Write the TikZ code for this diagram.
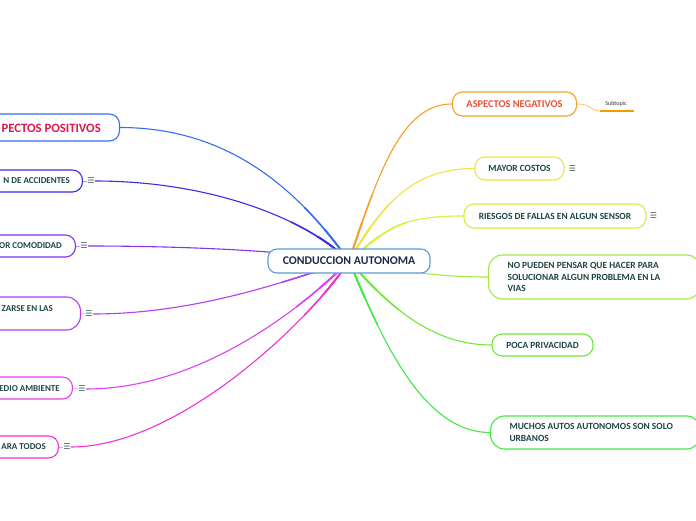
\documentclass[tikz,border=0pt]{standalone}
\usepackage{fontspec}
\setmainfont{Carlito}
\newfontfamily\symfont{DejaVu Sans}
\usetikzlibrary{backgrounds}
\pgfdeclarelayer{bottom}
\pgfsetlayers{bottom,background,main}
\definecolor{txt}{HTML}{1E4545}
\definecolor{navy}{HTML}{1B2A4E}
\definecolor{cenb}{HTML}{5B9BD5}
\definecolor{cL1}{HTML}{3A6CF2}
\definecolor{cL2}{HTML}{3A2EE6}
\definecolor{cL3}{HTML}{8232F0}
\definecolor{cL4}{HTML}{B040F2}
\definecolor{cL5}{HTML}{E040F0}
\definecolor{cL6}{HTML}{F232D2}
\definecolor{cR1}{HTML}{F5A02A}
\definecolor{cR2}{HTML}{F0E440}
\definecolor{cR3}{HTML}{D6F03C}
\definecolor{cR4}{HTML}{A2EA42}
\definecolor{cR5}{HTML}{72E83A}
\definecolor{cR6}{HTML}{44E844}
\definecolor{iconc}{HTML}{3D5C5C}
\definecolor{posred}{HTML}{E0174F}
\definecolor{negred}{HTML}{E8503A}
\definecolor{subor}{HTML}{F59A00}
\tikzset{
  box/.style={draw, line width=1.1pt, fill=white, rounded corners=10pt, inner sep=0pt},
  subfont/.style={font=\fontsize{9.4}{11.3}\selectfont\bfseries, text=txt},
  lbl/.style={inner sep=0pt, font=\fontsize{9}{11}\selectfont\bfseries, text=txt},
  icon/.style={inner sep=0pt, font=\symfont\fontsize{8}{8}\selectfont, text=iconc},
}
\newcommand\myconnectors{%
\draw[cL1] (c.center) .. controls +(-50,-70) and +(110,0) .. (l1.east);
\draw[cL2] (c.center) .. controls +(-40,-40) and +(120,0) .. (i2.east);
\draw[cL3] (c.center) .. controls +(-60,-10) and +(100,0) .. (i3.east);
\draw[cL4] (c.center) .. controls +(-50,15) and +(110,0) .. (i4.east);
\draw[cL5] (c.center) .. controls +(-40,40) and +(120,0) .. (i5.east);
\draw[cL6] (c.center) .. controls +(-35,55) and +(110,0) .. (i6.east);
\draw[cR1] (c.center) .. controls +(30,-90) and +(-50,0) .. (r1.west);
\draw[cR2] (c.center) .. controls +(35,-60) and +(-60,0) .. (r2.west);
\draw[cR3] (c.center) .. controls +(40,-35) and +(-60,0) .. (r3.west);
\draw[cR4] (c.center) .. controls +(50,10) and +(-50,0) .. (r4.west);
\draw[cR5] (c.center) .. controls +(40,45) and +(-60,0) .. (r5.west);
\draw[cR6] (c.center) .. controls +(30,70) and +(-70,0) .. (r6.west);}
\begin{document}
\begin{tikzpicture}[x=1pt,y=-1pt]
\useasboundingbox (0,0) rectangle (696,520);
\begin{pgfonlayer}{bottom}
\fill[white] (0,0) rectangle (696,520);
\end{pgfonlayer}
\clip (0,0) rectangle (696,520);
% central
\node[box, draw=cenb, rounded corners=9pt, minimum width=162pt, minimum height=24pt, font=\fontsize{11.8}{13}\selectfont\bfseries, text=navy] (c) at (349,261) {CONDUCCION AUTONOMA};
% left boxes
\node[box, draw=cL1, minimum width=180pt, minimum height=27pt, anchor=east] (l1) at (120,127.5) {};
\node[lbl, anchor=east, text=posred, font=\fontsize{12.7}{14}\selectfont\bfseries] (l1t) at (101,128) {PECTOS POSITIVOS};
\node[box, draw=cL2, minimum width=150pt, minimum height=22pt, anchor=east] (l2) at (83,181) {};
\node[lbl, anchor=east] (l2t) at (70,181) {N DE ACCIDENTES};
\node[icon] (i2) at (91,181) {☰};
\node[box, draw=cL3, minimum width=150pt, minimum height=22pt, anchor=east] (l3) at (76,246) {};
\node[lbl, anchor=east] (l3t) at (62,246) {OR COMODIDAD};
\node[icon] (i3) at (84,246) {☰};
\node[box, draw=cL4, rounded corners=14pt, minimum width=150pt, minimum height=33pt, anchor=east] (l4) at (81,313.5) {};
\node[lbl, anchor=east] (l4t) at (53,309) {ZARSE EN LAS};
\node[icon] (i4) at (89,314) {☰};
\node[box, draw=cL5, minimum width=150pt, minimum height=22pt, anchor=east] (l5) at (73,388) {};
\node[lbl, anchor=east] (l5t) at (60,388.5) {EDIO AMBIENTE};
\node[icon] (i5) at (82,389) {☰};
\node[box, draw=cL6, minimum width=150pt, minimum height=22pt, anchor=east] (l6) at (59,447) {};
\node[lbl, anchor=east] (l6t) at (46,447) {ARA TODOS};
\node[icon] (i6) at (67,447) {☰};
% right boxes
\node[box, draw=cR1, minimum width=124pt, minimum height=24pt, font=\fontsize{10.4}{12}\selectfont\bfseries, text=negred] (r1) at (514.5,104) {ASPECTOS NEGATIVOS};
\node[inner sep=0pt, font=\fontsize{6}{7}\selectfont, text=black!80] (sub) at (616,104) {Subtopic};
\coordinate (subl) at (600,111);
\coordinate (subr) at (634,111);
\node[box, draw=cR2, minimum width=89pt, minimum height=23pt, subfont] (r2) at (519.5,168.5) {MAYOR COSTOS};
\node[icon] (i7) at (572.5,169) {☰};
\node[box, draw=cR3, minimum width=182pt, minimum height=24pt, subfont] (r3) at (555,216) {RIESGOS DE FALLAS EN ALGUN SENSOR};
\node[icon] (i8) at (653.5,216) {☰};
\node[box, draw=cR4, rounded corners=14pt, inner xsep=19pt, minimum height=44pt, anchor=west, text width=174pt, align=flush left, subfont] (r4) at (488,277) {NO PUEDEN PENSAR QUE HACER PARA\\SOLUCIONAR ALGUN PROBLEMA EN LA\\VIAS};
\node[box, draw=cR5, minimum width=101pt, minimum height=22pt, subfont] (r5) at (542.5,345) {POCA PRIVACIDAD};
\node[box, draw=cR6, rounded corners=14pt, inner xsep=19pt, minimum height=33pt, anchor=west, text width=172pt, align=flush left, subfont] (r6) at (490,432.5) {MUCHOS AUTOS AUTONOMOS SON SOLO\\URBANOS};
% connectors (slightly thicker near the centre)
\begin{scope}[on background layer]
\begin{scope}[line width=1.1pt]
\myconnectors
\end{scope}
\begin{scope}
\clip (c.center) circle (70pt);
\begin{scope}[line width=1.5pt]
\myconnectors
\end{scope}
\end{scope}
\begin{scope}
\clip (c.center) circle (40pt);
\begin{scope}[line width=2pt]
\myconnectors
\end{scope}
\end{scope}
\draw[line width=0.6pt, cL2!50] (l2.east) -- (i2.west);
\draw[line width=0.6pt, cL3!50] (l3.east) -- (i3.west);
\draw[line width=0.6pt, cL4!50] (l4.east) -- (i4.west);
\draw[line width=0.6pt, cL5!50] (l5.east) -- (i5.west);
\draw[line width=0.6pt, cL6!50] (l6.east) -- (i6.west);
\draw[line width=0.7pt, cR1!70] (r1.east) .. controls +(15,0) and +(-10,0) .. (subl);
\end{scope}
\draw[line width=1.3pt, subor] (subl) -- (subr);
\end{tikzpicture}
\end{document}
